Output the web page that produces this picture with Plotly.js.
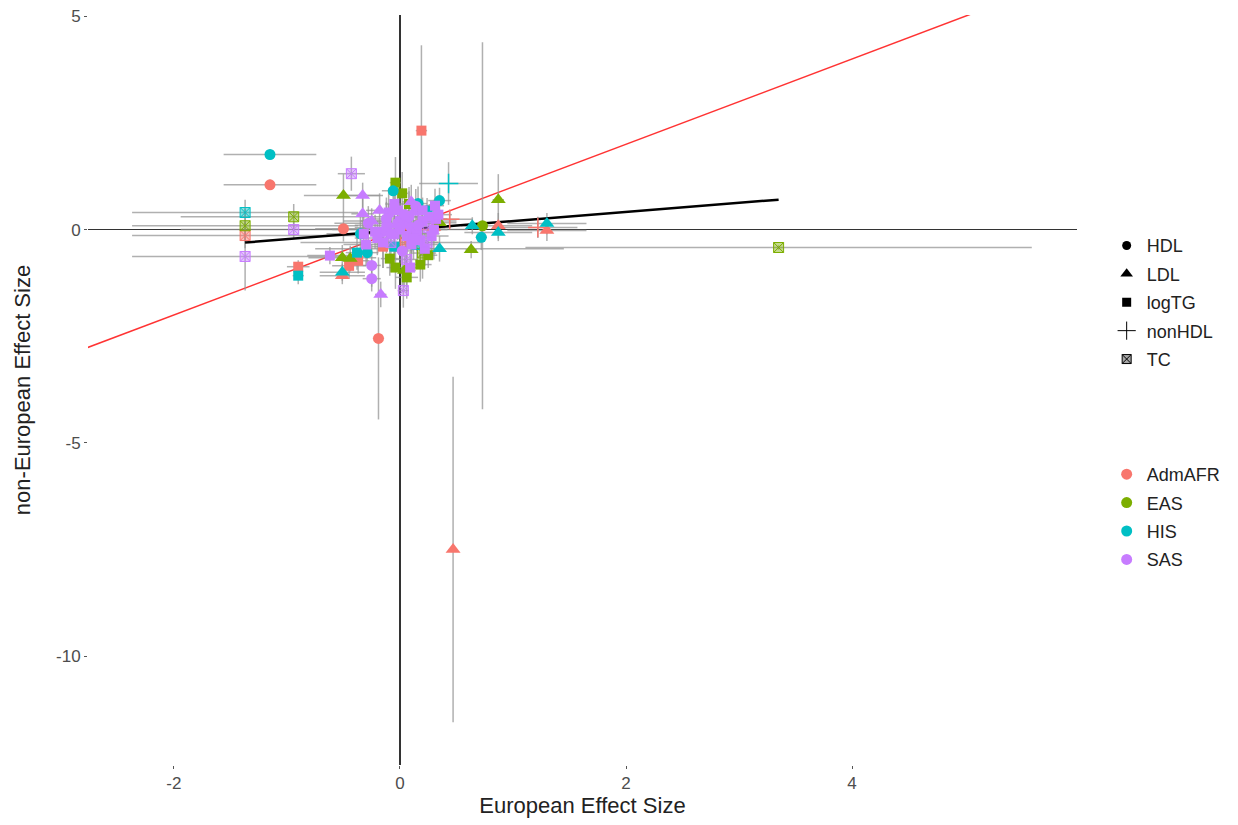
<!DOCTYPE html>
<html>
<head>
<meta charset="utf-8">
<script src="https://cdn.plot.ly/plotly-3.0.1.min.js"></script>
<style>html,body{margin:0;padding:0;background:#fff;}#chart{width:1238px;height:825px;}</style>
</head>
<body>
<div id="chart"></div>
<script>
// ---- data ----
const populations = ["AdmAFR", "EAS", "HIS", "SAS"];
const popColors = ["#F8766D", "#7CAE00", "#00BFC4", "#C77CFF"];
const traits = ["HDL", "LDL", "logTG", "nonHDL", "TC"];

const population = [
 // AdmAFR
 "AdmAFR","AdmAFR","AdmAFR","AdmAFR","AdmAFR","AdmAFR","AdmAFR","AdmAFR","AdmAFR","AdmAFR",
 "AdmAFR","AdmAFR","AdmAFR","AdmAFR","AdmAFR","AdmAFR","AdmAFR","AdmAFR","AdmAFR",
 // EAS
 "EAS","EAS","EAS","EAS","EAS","EAS","EAS","EAS","EAS","EAS",
 "EAS","EAS","EAS","EAS","EAS","EAS","EAS","EAS","EAS","EAS","EAS","EAS",
 // HIS
 "HIS","HIS","HIS","HIS","HIS","HIS","HIS","HIS","HIS","HIS",
 "HIS","HIS","HIS","HIS","HIS","HIS","HIS","HIS","HIS",
 // SAS
 "SAS","SAS","SAS","SAS","SAS","SAS","SAS","SAS","SAS","SAS",
 "SAS","SAS","SAS","SAS","SAS","SAS","SAS","SAS","SAS","SAS",
 "SAS","SAS","SAS","SAS","SAS","SAS","SAS","SAS","SAS","SAS",
 "SAS","SAS","SAS","SAS","SAS","SAS","SAS","SAS","SAS","SAS","SAS",
 "SAS","SAS","SAS","SAS","SAS","SAS","SAS","SAS","SAS","SAS",
 "SAS","SAS","SAS","SAS","SAS","SAS","SAS","SAS"
];
const trait = [
 // AdmAFR
 "HDL","logTG","HDL","LDL","TC","logTG","nonHDL","nonHDL","LDL","LDL",
 "HDL","logTG","LDL","logTG","HDL","LDL","logTG","TC","nonHDL",
 // EAS
 "TC","LDL","LDL","HDL","LDL","LDL","LDL","logTG","TC","TC",
 "logTG","logTG","LDL","logTG","logTG","LDL","logTG","logTG","HDL","nonHDL","TC","logTG",
 // HIS
 "HDL","nonHDL","HDL","LDL","LDL","LDL","HDL","TC","logTG","LDL",
 "LDL","HDL","HDL","HDL","logTG","HDL","TC","HDL","logTG",
 // SAS
 "TC","LDL","LDL","LDL","logTG","TC","TC","HDL","HDL","logTG",
 "TC","logTG","logTG","logTG","HDL","logTG","HDL","logTG","LDL","HDL",
 "logTG","TC","logTG","HDL","logTG","LDL","logTG","TC","HDL","logTG",
 "logTG","HDL","logTG","TC","logTG","HDL","logTG","logTG","LDL","HDL","logTG",
 "logTG","HDL","logTG","logTG","HDL","logTG","LDL","logTG","HDL","logTG",
 "logTG","HDL","logTG","TC","logTG","HDL","logTG","LDL"
];
const euroEffect = [
 // AdmAFR
 -1.15, 0.19, -0.19, 0.47, -1.37, -0.90, 0.44, 1.22, 0.87, 1.30,
 -0.50, -0.37, -0.51, -0.45, 0.05, 0.30, -0.15, 0.05, 0.15,
 // EAS
 3.35, 0.87, 0.63, 0.73, -0.50, -0.51, -0.44, -0.04, -1.37, -0.94,
 0.18, 0.06, 0.04, -0.04, -0.09, 0.35, 0.02, 0.08, 0.05, 0.10, 0.20, 0.25,
 // HIS
 -1.15, 0.43, 0.72, 0.64, 0.35, -0.51, -0.06, -1.37, -0.90, 1.30,
 0.87, 0.16, 0.24, 0.35, -0.38, -0.29, 0.15, -0.35, -0.05,
 // SAS
 -0.43, -0.33, -0.33, -0.17, -0.62, -1.37, -0.94, -0.25, -0.25, 0.09,
 0.03, -0.10, 0.31, 0.00, 0.05, -0.05, 0.10, 0.15, -0.10, -0.15,
 0.20, 0.25, -0.20, 0.08, -0.02, 0.12, 0.18, -0.08, 0.02, 0.28,
 0.32, -0.28, -0.30, 0.06, 0.22, -0.12, 0.00, 0.10, -0.18, 0.14, -0.05,
 -0.22, 0.04, 0.26, -0.12, 0.16, 0.30, -0.25, 0.06, -0.02, 0.20,
 0.12, -0.08, -0.15, 0.24, 0.34, 0.00, -0.32, 0.10
];
const nonEuroEffect = [
 // AdmAFR
 1.05, 2.32, -2.55, -7.50, -0.14, -0.87, 0.24, 0.05, 0.09, -0.02,
 0.02, -0.73, -1.08, -0.85, 0.10, 0.05, -0.40, -0.30, 0.00,
 // EAS
 -0.42, 0.70, -0.47, 0.09, 0.80, -0.66, -0.68, 1.10, 0.09, 0.30,
 -0.82, -1.12, -0.96, -0.89, -0.68, 0.16, 0.85, 0.60, 0.30, -0.20, -0.55, -0.60,
 // HIS
 1.76, 1.08, -0.18, 0.09, -0.45, -1.00, 0.91, 0.40, -1.08, 0.14,
 -0.07, 0.61, 0.44, 0.68, -0.54, -0.54, -0.35, -0.10, -0.40,
 // SAS
 1.31, 0.80, 0.37, -1.52, -0.61, -0.63, 0.00, -0.84, -1.15, -0.89,
 -1.43, 0.40, 0.56, 0.00, 0.15, -0.10, 0.05, -0.10, 0.10, -0.05,
 0.20, 0.05, -0.20, 0.30, 0.45, 0.40, -0.25, -0.30, -0.50, -0.15,
 0.25, 0.15, -0.35, -0.70, -0.45, 0.25, 0.20, -0.35, 0.45, 0.55, 0.60,
 -0.05, 0.35, 0.30, 0.05, 0.10, 0.00, 0.20, -0.15, 0.15, 0.45,
 -0.20, -0.10, -0.30, -0.30, 0.35, 0.05, -0.10, 0.65
];
const euroErr = [
 // AdmAFR
 0.41, 0.05, 0.05, 0.03, 1.00, 0.10, 0.20, 0.35, 0.30, 0.35,
 0.25, 0.10, 0.20, 0.15, 0.10, 0.15, 0.10, 0.20, 0.10,
 // EAS
 2.24, 0.05, 0.05, 0.05, 0.35, 0.30, 0.10, 0.05, 1.00, 1.00,
 0.10, 0.10, 0.10, 0.08, 0.08, 0.15, 0.05, 0.06, 0.10, 0.15, 0.12, 0.08,
 // HIS
 0.41, 0.26, 0.05, 0.10, 1.10, 0.20, 0.10, 1.00, 0.05, 0.35,
 0.30, 0.08, 0.08, 0.10, 0.10, 0.10, 0.20, 0.30, 0.10,
 // SAS
 0.12, 0.15, 0.10, 0.05, 0.20, 1.00, 1.00, 0.08, 0.08, 0.06,
 0.05, 0.10, 0.08, 0.60, 0.10, 0.40, 0.10, 0.10, 0.30, 0.12,
 0.08, 0.15, 0.20, 0.08, 0.10, 0.10, 0.08, 0.80, 0.10, 0.15,
 0.10, 0.30, 0.20, 0.10, 0.10, 0.15, 0.50, 0.08, 0.12, 0.10, 0.08,
 0.10, 0.06, 0.10, 0.08, 0.06, 0.12, 0.10, 0.06, 0.30, 0.08,
 0.06, 0.10, 0.08, 0.10, 0.12, 0.40, 0.15, 0.08
];
const nonEuroErr = [
 // AdmAFR
 0.12, 2.00, 1.90, 4.05, 0.30, 0.15, 0.20, 0.25, 0.30, 0.25,
 0.30, 0.30, 0.20, 0.30, 0.30, 0.20, 0.50, 0.60, 0.20,
 // EAS
 0.05, 0.60, 0.20, 4.30, 0.50, 0.30, 0.30, 0.60, 0.40, 0.30,
 0.40, 0.50, 0.40, 0.50, 0.40, 0.20, 0.50, 0.40, 0.40, 0.30, 0.60, 0.30,
 // HIS
 0.12, 0.50, 0.30, 0.20, 0.30, 0.20, 0.30, 0.30, 0.20, 0.25,
 0.20, 0.40, 0.30, 0.30, 0.40, 0.30, 0.50, 0.40, 0.30,
 // SAS
 0.40, 0.30, 0.40, 0.30, 0.20, 0.80, 0.20, 0.50, 0.30, 0.30,
 0.40, 0.50, 0.40, 0.80, 0.40, 0.50, 0.60, 0.40, 0.50, 0.40,
 0.30, 0.50, 0.40, 0.60, 0.60, 0.30, 0.50, 0.70, 0.80, 0.40,
 0.30, 0.40, 0.50, 0.60, 0.40, 0.50, 0.40, 0.60, 0.40, 0.40, 0.50,
 0.40, 0.50, 0.30, 0.60, 0.40, 0.70, 0.30, 0.50, 0.40, 0.30,
 0.50, 0.40, 0.60, 0.30, 0.30, 0.50, 0.40, 0.40
];
// regression fit of nonEuropean on European effect
const fitSlope = [0.213];
const fitIntercept = [-0.012];

// tick labels
const xTickVals = [-2, 0, 2, 4];
const xTickText = ["-2", "0", "2", "4"];
const yTickVals = [5, 0, -5, -10];
const yTickText = ["5", "0", "-5", "-10"];

// ---- styling ----
const symbolOf = {HDL: "circle", LDL: "triangle-up", logTG: "square", nonHDL: "cross-thin-open", TC: "square-x"};
const sizeOf = {HDL: 11, LDL: 13, logTG: 10, nonHDL: 14, TC: 10};
function hexA(h, a) {
  const r = parseInt(h.slice(1,3),16), g = parseInt(h.slice(3,5),16), b = parseInt(h.slice(5,7),16);
  return `rgba(${r},${g},${b},${a})`;
}

const traces = [];
const ebColor = "rgba(150,150,150,0.75)";

// reference line y = x
const xs = [-3, 7];
traces.push({x: xs, y: xs, mode: "lines", line: {color: "#FF3333", width: 1.5}, showlegend: false, hoverinfo: "skip"});

// error bars (beneath all markers)
populations.forEach((p) => {
  const idx = population.map((v, i) => v === p ? i : -1).filter(i => i >= 0);
  traces.push({
    x: idx.map(i => euroEffect[i]), y: idx.map(i => nonEuroEffect[i]),
    mode: "markers", marker: {opacity: 0, size: 1},
    error_x: {type: "data", array: idx.map(i => euroErr[i]), color: ebColor, thickness: 1.5, width: 0},
    error_y: {type: "data", array: idx.map(i => nonEuroErr[i]), color: ebColor, thickness: 1.5, width: 0},
    showlegend: false, hoverinfo: "skip"
  });
});

// regression line
const xMin = Math.min(...euroEffect), xMax = Math.max(...euroEffect);
traces.push({x: [xMin, xMax], y: [fitIntercept[0] + fitSlope[0]*xMin, fitIntercept[0] + fitSlope[0]*xMax],
  mode: "lines", line: {color: "#000", width: 2.5}, showlegend: false, hoverinfo: "skip"});

// markers
populations.forEach((p, k) => {
  const idx = population.map((v, i) => v === p ? i : -1).filter(i => i >= 0);
  const col = popColors[k];
  traces.push({
    x: idx.map(i => euroEffect[i]), y: idx.map(i => nonEuroEffect[i]),
    mode: "markers", name: p, showlegend: false,
    marker: {
      opacity: 1,
      symbol: idx.map(i => symbolOf[trait[i]]),
      size: idx.map(i => sizeOf[trait[i]]),
      color: idx.map(i => trait[i] === "TC" ? hexA(col, 0.45) : col),
      line: {color: col, width: idx.map(i => trait[i] === "nonHDL" ? 1.5 : (trait[i] === "TC" ? 1 : 0))}
    },
    text: idx.map(i => trait[i])
  });
});

// legend: shapes
traits.forEach((t) => {
  traces.push({x: [null], y: [null], mode: "markers", name: t, legend: "legend", legendgroup: "s_" + t,
    marker: {symbol: symbolOf[t], size: t === "nonHDL" ? 13 : (t === "LDL" ? 11 : 9), color: t === "TC" ? "rgba(0,0,0,0.35)" : "#000",
             line: {color: "#000", width: t === "nonHDL" ? 1 : (t === "TC" ? 1 : 0)}}});
});
// legend: colours
populations.forEach((p, k) => {
  traces.push({x: [null], y: [null], mode: "markers", name: p, legend: "legend2", legendgroup: "c_" + p,
    marker: {symbol: "circle", size: 11, color: popColors[k]}});
});

const layout = {
  width: 1238, height: 825,
  margin: {l: 88, r: 161, t: 15, b: 60},
  paper_bgcolor: "#fff", plot_bgcolor: "#fff",
  font: {family: "Liberation Sans, Arial, sans-serif", color: "#222"},
  showlegend: true,
  xaxis: {
    range: [-2.76, 5.99], showgrid: false, showline: false,
    zeroline: true, zerolinecolor: "#333", zerolinewidth: 1.5,
    tickvals: xTickVals, ticktext: xTickText, ticks: "outside", ticklen: 3, tickcolor: "#555",
    tickfont: {size: 17, color: "#4d4d4d"},
    title: {text: "European Effect Size", font: {size: 22, color: "#222"}, standoff: 4}
  },
  yaxis: {
    range: [-12.55, 5.03], showgrid: false, showline: false,
    zeroline: true, zerolinecolor: "#333", zerolinewidth: 1.5,
    tickvals: yTickVals, ticktext: yTickText, ticks: "outside", ticklen: 3, tickcolor: "#555",
    tickfont: {size: 17, color: "#4d4d4d"},
    title: {text: "non-European Effect Size", font: {size: 22, color: "#222"}, standoff: 19}
  },
  legend: {x: 1.030, y: 0.717, xanchor: "left", yanchor: "top", font: {size: 18, color: "#222"},
           bgcolor: "rgba(0,0,0,0)", traceorder: "grouped", tracegroupgap: 2},
  legend2: {x: 1.030, y: 0.412, xanchor: "left", yanchor: "top", font: {size: 18, color: "#222"},
            bgcolor: "rgba(0,0,0,0)", traceorder: "grouped", tracegroupgap: 2}
};

Plotly.newPlot("chart", traces, layout, {displayModeBar: false, staticPlot: true});
</script>
</body>
</html>
